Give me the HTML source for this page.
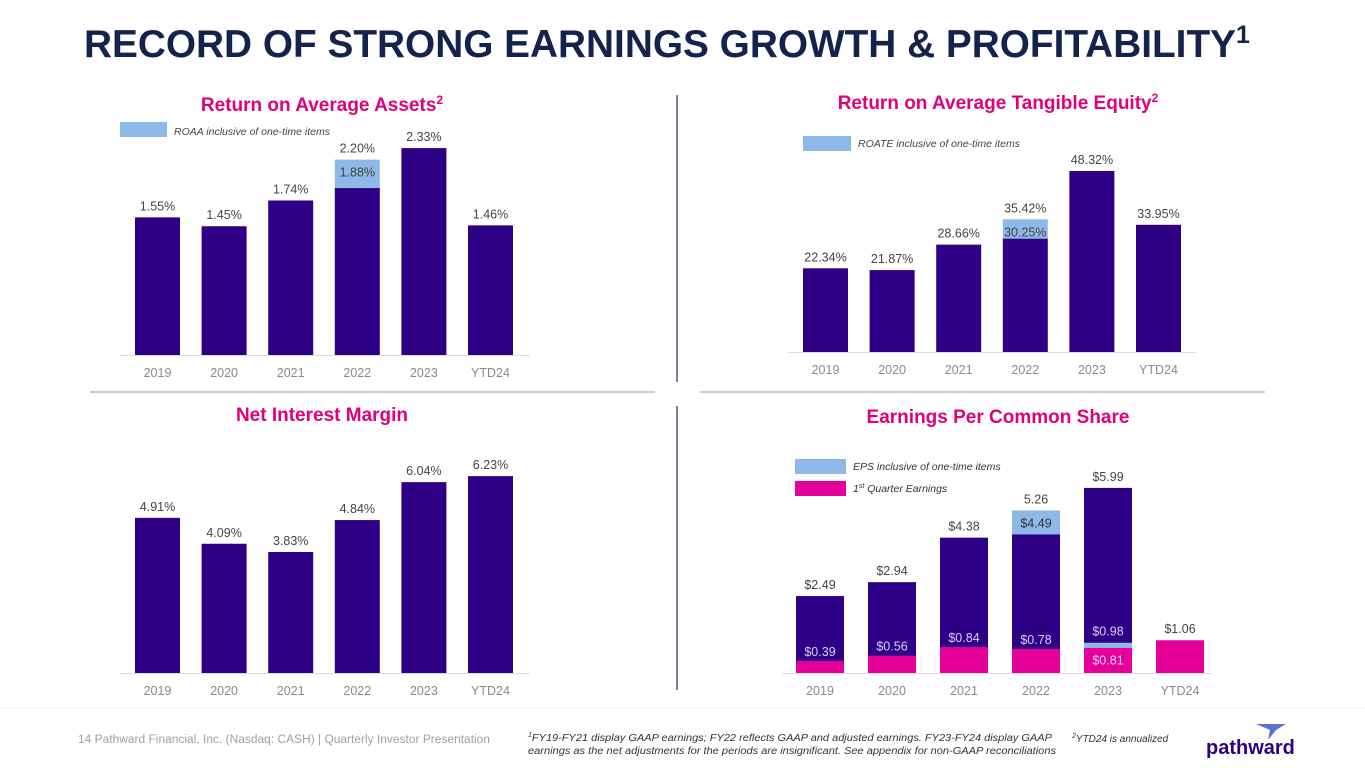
<!DOCTYPE html>
<html><head><meta charset="utf-8"><style>
body{margin:0;width:1365px;height:768px;background:#fff;overflow:hidden;font-family:"Liberation Sans",sans-serif;}
svg{position:absolute;left:0;top:0}
</style></head><body>
<svg id="s" width="1365" height="768">
<text x="84" y="57" font-size="39" font-weight="bold" fill="#14234b"><tspan textLength="1152" lengthAdjust="spacingAndGlyphs">RECORD OF STRONG EARNINGS GROWTH &amp; PROFITABILITY</tspan><tspan font-size="25" dy="-14">1</tspan></text>
<line x1="677" y1="95" x2="677" y2="382" stroke="#7b7fa6" stroke-width="2"/>
<line x1="677" y1="406" x2="677" y2="690" stroke="#7b7fa6" stroke-width="2"/>
<line x1="90" y1="392" x2="655" y2="392" stroke="#9a9a9a" stroke-width="1"/>
<line x1="700" y1="392" x2="1265" y2="392" stroke="#9a9a9a" stroke-width="1"/>
<line x1="0" y1="708" x2="1365" y2="708" stroke="#eeeeee" stroke-width="1"/>
<text x="322" y="111" text-anchor="middle" font-size="19" font-weight="bold" fill="#e0007a">Return on Average Assets<tspan font-size="12" dy="-7">2</tspan></text>
<text x="998" y="109" text-anchor="middle" font-size="19" font-weight="bold" fill="#e0007a">Return on Average Tangible Equity<tspan font-size="12" dy="-7">2</tspan></text>
<text x="322" y="421" text-anchor="middle" font-size="19" font-weight="bold" fill="#e0007a">Net Interest Margin</text>
<text x="998" y="423" text-anchor="middle" font-size="19" font-weight="bold" fill="#e0007a">Earnings Per Common Share</text>
<rect x="120" y="122" width="47" height="15" fill="#8db8e8"/>
<text x="174" y="135" font-size="10.5" font-style="italic" fill="#444">ROAA inclusive of one-time items</text>
<rect x="803" y="136" width="48" height="15" fill="#8db8e8"/>
<text x="858" y="147" font-size="10.5" font-style="italic" fill="#444">ROATE inclusive of one-time items</text>
<rect x="795" y="459" width="51" height="15" fill="#8db8e8"/>
<text x="853" y="470" font-size="10.5" font-style="italic" fill="#333">EPS inclusive of one-time items</text>
<rect x="795" y="481" width="51" height="15" fill="#e6009a"/>
<text x="853" y="492" font-size="10.5" font-style="italic" fill="#333">1<tspan font-size="7" dy="-4">st</tspan><tspan dy="4"> Quarter Earnings</tspan></text>
<text x="78" y="743" font-size="11.5" fill="#a0a0a0"><tspan textLength="412" lengthAdjust="spacingAndGlyphs">14    Pathward Financial, Inc. (Nasdaq: CASH) | Quarterly Investor Presentation</tspan></text>
<text x="528" y="741" font-size="10" font-style="italic" fill="#333"><tspan font-size="7" dy="-4">1</tspan><tspan dy="4" textLength="520" lengthAdjust="spacingAndGlyphs">FY19-FY21 display GAAP earnings; FY22 reflects GAAP and adjusted earnings. FY23-FY24 display GAAP</tspan></text>
<text x="528" y="754" font-size="10" font-style="italic" fill="#333"><tspan textLength="528" lengthAdjust="spacingAndGlyphs">earnings as the net adjustments for the periods are insignificant. See appendix for non-GAAP reconciliations</tspan></text>
<text x="1072" y="742" font-size="10" font-style="italic" fill="#333"><tspan font-size="7" dy="-4">2</tspan><tspan dy="4">YTD24 is annualized</tspan></text>
<polygon points="1256,724 1286,724 1276,730 1268,740 1270,730" fill="#5b6fd6"/>
<text x="1206" y="754" font-size="20" font-weight="bold" fill="#2e0085">pathward</text>
</svg>
<script>
const years=["2019","2020","2021","2022","2023","YTD24"];
const roaa=[1.55,1.45,1.74,1.88,2.33,1.46];
const roaaOneTime=[null,null,null,2.20,null,null];
const roate=[22.34,21.87,28.66,30.25,48.32,33.95];
const roateOneTime=[null,null,null,35.42,null,null];
const nim=[4.91,4.09,3.83,4.84,6.04,6.23];
const eps=[2.49,2.94,4.38,4.49,5.99,null];
const epsOneTime=[null,null,null,5.26,null,null];
const epsQ1=[0.39,0.56,0.84,0.78,0.81,1.06];
const epsQ1OneTime=[null,null,null,null,0.98,null];
const epsLabels=["$2.49","$2.94","$4.38","$4.49","$5.99",""];
const epsTopLabels=[null,null,null,"5.26",null,null];

const S=document.getElementById('s');
const NS="http://www.w3.org/2000/svg";
const DARK="#2e0085",LIGHT="#8db8e8",PINK="#e6009a";
function mk(tag,a){const e=document.createElementNS(NS,tag);for(const k in a)e.setAttribute(k,a[k]);S.appendChild(e);return e;}
function txt(x,y,t,fill,size){const e=mk('text',{x:x,y:y,'text-anchor':'middle','font-size':size||12.5,fill:fill});e.textContent=t;return e;}

function chart(cfg){
  const y=v=>cfg.base-v*cfg.k;
  const xl=i=>cfg.x0+i*cfg.step;
  const ax=mk('line',{x1:cfg.ax0,x2:cfg.ax1,y1:cfg.base+0.5,y2:cfg.base+0.5,stroke:'#ddd'});
  
  
  years.forEach((yr,i)=>{
    const cx=xl(i)+cfg.w/2;
    const t=txt(cx,cfg.base+22,yr,'#8a8a8a',12.5);
    
    
    if(cfg.one&&cfg.one[i]!=null){
      const r=mk('rect',{x:xl(i),y:y(cfg.one[i]),width:cfg.w,height:(cfg.one[i]-cfg.vals[i])*cfg.k,fill:LIGHT});
      
      
      const l=txt(cx,y(cfg.one[i])-7,cfg.fmt(cfg.one[i]),'#444');
      
      
      const l2=txt(cx,y(cfg.one[i])+17,cfg.fmt(cfg.vals[i]),'#444');
      
      
    }
    const r=mk('rect',{x:xl(i),y:y(cfg.vals[i]),width:cfg.w,height:cfg.vals[i]*cfg.k,fill:DARK});
    
    
    if(!(cfg.one&&cfg.one[i]!=null)){
      const l=txt(cx,y(cfg.vals[i])-7,cfg.fmt(cfg.vals[i]),'#444');
      
      
    }
  });
}
const pct=v=>v.toFixed(2)+'%';
chart({id:'roaa',vals:roaa,one:roaaOneTime,base:355,k:88.8,x0:135,step:66.6,w:45,ax0:120,ax1:530,fmt:pct});
chart({id:'roate',vals:roate,one:roateOneTime,base:352,k:3.746,x0:803,step:66.6,w:45,ax0:788,ax1:1196,fmt:pct});
chart({id:'nim',vals:nim,one:null,base:673,k:31.6,x0:135,step:66.6,w:45,ax0:120,ax1:530,fmt:pct});

(function(){
  const base=673,k=30.9,x0=796,step=72,w=48;
  const y=v=>base-v*k, xl=i=>x0+i*step;
  const ax=mk('line',{x1:782,x2:1212,y1:base+0.5,y2:base+0.5,stroke:'#ddd'});
  
  
  years.forEach((yr,i)=>{
    const cx=xl(i)+w/2;
    const t=txt(cx,base+22,yr,'#8a8a8a',12.5);
    
    
    if(eps[i]!=null){
      const r=mk('rect',{x:xl(i),y:y(eps[i]),width:w,height:eps[i]*k,fill:DARK});
      
      
    }
    if(epsOneTime[i]!=null){
      const r=mk('rect',{x:xl(i),y:y(epsOneTime[i]),width:w,height:(epsOneTime[i]-eps[i])*k,fill:LIGHT});
      
      
      const l=txt(cx,y(epsOneTime[i])-7,epsTopLabels[i],'#444');
      
      
      const l2=txt(cx,y(epsOneTime[i])+17,epsLabels[i],'#333');
      
      
    } else if(eps[i]!=null){
      const l=txt(cx,y(eps[i])-7,epsLabels[i],'#444');
      
      
    }
    if(epsQ1OneTime[i]!=null){
      const r=mk('rect',{x:xl(i),y:y(epsQ1OneTime[i]),width:w,height:(epsQ1OneTime[i]-epsQ1[i])*k,fill:LIGHT});
      
      
    }
    const p=mk('rect',{x:xl(i),y:y(epsQ1[i]),width:w,height:epsQ1[i]*k,fill:PINK});
    
    
    if(eps[i]==null){
      const l=txt(cx,y(epsQ1[i])-7,'$'+epsQ1[i].toFixed(2),'#444');
      
      
    } else if(epsQ1OneTime[i]!=null){
      const l=txt(cx,y(epsQ1OneTime[i])-7,'$'+epsQ1OneTime[i].toFixed(2),'#d8d0ff');
      
      
      const l2=txt(cx,y(epsQ1[i]/2)+4,'$'+epsQ1[i].toFixed(2),'#f8d0ea');
      
      
    } else {
      const l=txt(cx,Math.min(y(epsQ1[i])-5,base-8),'$'+epsQ1[i].toFixed(2),'#d8d0ff');
      
      
    }
  });
})();
</script>
</body></html>
